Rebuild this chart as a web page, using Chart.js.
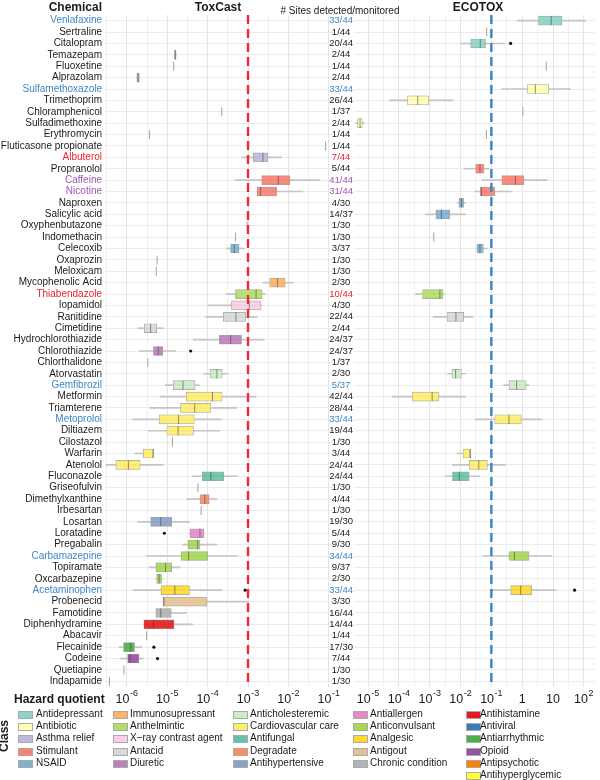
<!DOCTYPE html>
<html lang="en">
<head>
<meta charset="UTF-8">
<title>Hazard quotients: ToxCast vs ECOTOX</title>
<script src="https://cdn.jsdelivr.net/npm/chart.js"></script>
<style>
  body { margin: 0; width: 600px; height: 780px; position: relative; background: #fff; overflow: hidden;
         font-family: 'Liberation Sans', Arial, sans-serif; color: #1a1a1a; }
  .abs { position: absolute; white-space: nowrap; line-height: 1; }
  .ttl { font-weight: bold; font-size: 12px; }
  canvas { display: block; }
  #toxWrap { position: absolute; left: 0; top: 0; }
  #ecoWrap { position: absolute; left: 300px; top: 0; }
  .lg { position: absolute; font-size: 10px; line-height: 12px; white-space: nowrap; }
  .sw { position: absolute; width: 13px; height: 6px; border: 0.5px solid #aaa; }
</style>
</head>
<body>
  <div id="toxWrap"><canvas id="toxChart" width="345" height="715"></canvas></div>
  <div id="ecoWrap"><canvas id="ecoChart" width="300" height="715"></canvas></div>

  <div class="abs ttl" style="left:0; width:102px; text-align:right; top:1px;">Chemical</div>
  <div class="abs ttl" style="left:168px; width:100px; text-align:center; top:1px;">ToxCast</div>
  <div class="abs" style="left:260px; width:160px; text-align:center; top:6px; font-size:10px;"># Sites detected/monitored</div>
  <div class="abs ttl" style="left:428px; width:100px; text-align:center; top:1px;">ECOTOX</div>
  <div class="abs ttl" style="left:14px; top:693px;">Hazard quotient</div>
  <div class="abs ttl" style="left:-12px; top:730px; transform:rotate(-90deg);">Class</div>
  <div id="legend"></div>

<script>
const FONT = "'Liberation Sans', Arial, sans-serif";

const chemicals = ['Venlafaxine', 'Sertraline', 'Citalopram', 'Temazepam', 'Fluoxetine', 'Alprazolam',
  'Sulfamethoxazole', 'Trimethoprim', 'Chloramphenicol', 'Sulfadimethoxine', 'Erythromycin',
  'Fluticasone propionate', 'Albuterol', 'Propranolol', 'Caffeine', 'Nicotine', 'Naproxen',
  'Salicylic acid', 'Oxyphenbutazone', 'Indomethacin', 'Celecoxib', 'Oxaprozin', 'Meloxicam',
  'Mycophenolic Acid', 'Thiabendazole', 'Iopamidol', 'Ranitidine', 'Cimetidine',
  'Hydrochlorothiazide', 'Chlorothiazide', 'Chlorthalidone', 'Atorvastatin', 'Gemfibrozil',
  'Metformin', 'Triamterene', 'Metoprolol', 'Diltiazem', 'Cilostazol', 'Warfarin', 'Atenolol',
  'Fluconazole', 'Griseofulvin', 'Dimethylxanthine', 'Irbesartan', 'Losartan', 'Loratadine',
  'Pregabalin', 'Carbamazepine', 'Topiramate', 'Oxcarbazepine', 'Acetaminophen', 'Probenecid',
  'Famotidine', 'Diphenhydramine', 'Abacavir', 'Flecainide', 'Codeine', 'Quetiapine', 'Indapamide'];

const siteCounts = ['33/44', '1/44', '20/44', '2/44', '1/44', '2/44', '33/44', '26/44', '1/37', '2/44',
  '1/44', '1/44', '7/44', '5/44', '41/44', '31/44', '4/30', '14/37', '1/30', '1/30', '3/37', '1/30',
  '1/30', '2/30', '10/44', '4/30', '22/44', '2/44', '24/37', '24/37', '1/37', '2/30', '5/37', '42/44',
  '28/44', '33/44', '19/44', '1/30', '3/44', '24/44', '24/44', '1/30', '4/44', '1/30', '19/30', '5/44',
  '9/30', '34/44', '9/37', '2/30', '33/44', '3/30', '16/44', '14/44', '1/44', '17/30', '7/44', '1/30', '1/30'];

// class index per chemical (into classNames)
const chemClass = [0,0,0,0,0,0, 1,1,1,1,1, 2,2, 3,3,3, 4,4,4,4,4,4,4, 5, 6, 7, 8,8, 9,9,9, 10,10,
  11,11,11,11,11,11,11, 12,12, 13, 14,14, 15, 16,16,16,16, 17, 18, 19, 20, 21, 22, 23, 24, 25];

const classNames = ['Antidepressant', 'Antibiotic', 'Asthma relief', 'Stimulant', 'NSAID',
  'Immunosupressant', 'Anthelmintic', 'X\u2212ray contrast agent', 'Antacid', 'Diuretic',
  'Anticholesteremic', 'Cardiovascular care', 'Antifungal', 'Degradate', 'Antihypertensive',
  'Antiallergen', 'Anticonvulsant', 'Analgesic', 'Antigout', 'Chronic condition',
  'Antihistamine', 'Antiviral', 'Antiarrhythmic', 'Opioid', 'Antipsychotic', 'Antihyperglycemic'];

const blueNames = ['Venlafaxine', 'Sulfamethoxazole', 'Gemfibrozil', 'Metoprolol', 'Carbamazepine', 'Acetaminophen'];
const redNames = ['Albuterol', 'Thiabendazole'];
const purpleNames = ['Caffeine', 'Nicotine'];

// log10(hazard quotient): [lower whisker, q1, median, q3, upper whisker], or [single value]
const toxcastLog10 = {
  'Temazepam': [-4.82, -4.82, -4.80, -4.78, -4.78],
  'Fluoxetine': [-4.84],
  'Alprazolam': [-5.76, -5.75, -5.72, -5.69, -5.69],
  'Chloramphenicol': [-3.65],
  'Erythromycin': [-5.44],
  'Fluticasone propionate': [-1.08],
  'Albuterol': [-3.16, -2.87, -2.63, -2.51, -2.17],
  'Caffeine': [-3.32, -2.66, -2.25, -1.96, -1.22],
  'Nicotine': [-2.78, -2.77, -2.69, -2.29, -1.64],
  'Oxyphenbutazone': [-3.02],
  'Indomethacin': [-3.31],
  'Celecoxib': [-3.53, -3.43, -3.34, -3.22, -3.09],
  'Oxaprozin': [-5.25],
  'Meloxicam': [-5.27],
  'Mycophenolic Acid': [-2.62, -2.46, -2.27, -2.08, -1.89],
  'Thiabendazole': [-3.54, -3.31, -2.80, -2.65, -2.57],
  'Iopamidol': [-3.98, -3.41, -2.97, -2.68, -2.66],
  'Ranitidine': [-4.05, -3.61, -3.30, -3.06, -2.77],
  'Cimetidine': [-5.73, -5.57, -5.41, -5.26, -5.10],
  'Hydrochlorothiazide': [-4.35, -3.71, -3.43, -3.16, -2.60],
  'Chlorothiazide': [-5.69, -5.34, -5.22, -5.11, -4.79],
  'Chlorthalidone': [-5.48],
  'Atorvastatin': [-4.09, -3.94, -3.77, -3.64, -3.50],
  'Gemfibrozil': [-5.05, -4.85, -4.61, -4.31, -4.21],
  'Metformin': [-5.18, -4.53, -3.88, -3.64, -2.80],
  'Triamterene': [-5.43, -4.67, -4.32, -3.92, -3.28],
  'Metoprolol': [-5.85, -5.20, -4.72, -4.33, -3.67],
  'Diltiazem': [-5.46, -5.01, -4.73, -4.35, -3.71],
  'Cilostazol': [-4.87],
  'Warfarin': [-5.80, -5.59, -5.35, -5.34, -5.34],
  'Atenolol': [-6.51, -6.27, -5.96, -5.67, -5.10],
  'Fluconazole': [-4.37, -4.13, -3.92, -3.60, -3.26],
  'Griseofulvin': [-4.24],
  'Dimethylxanthine': [-4.52, -4.19, -4.07, -3.96, -3.77],
  'Irbesartan': [-4.16],
  'Losartan': [-5.73, -5.41, -5.16, -4.89, -4.45],
  'Loratadine': [-4.44, -4.44, -4.19, -4.09, -4.09],
  'Pregabalin': [-4.62, -4.48, -4.25, -4.19, -3.78],
  'Carbamazepine': [-5.51, -4.66, -4.47, -4.00, -3.26],
  'Topiramate': [-5.45, -5.28, -5.04, -4.89, -4.68],
  'Oxcarbazepine': [-5.28, -5.26, -5.20, -5.14, -5.12],
  'Acetaminophen': [-5.84, -5.15, -4.81, -4.45, -3.65],
  'Probenecid': [-5.10, -5.10, -5.08, -4.02, -2.99],
  'Famotidine': [-5.28, -5.28, -5.16, -4.90, -4.52],
  'Diphenhydramine': [-5.58, -5.58, -5.34, -4.83, -4.37],
  'Abacavir': [-5.51],
  'Flecainide': [-6.19, -6.08, -5.90, -5.81, -5.63],
  'Codeine': [-6.17, -5.98, -5.92, -5.70, -5.59],
  'Quetiapine': [-6.07],
  'Indapamide': [-6.43]
};
const toxcastOutliers = [['Chlorothiazide', -4.42], ['Loratadine', -5.07], ['Acetaminophen', -3.07],
  ['Flecainide', -5.33], ['Codeine', -5.24]];

const ecotoxLog10 = {
  'Venlafaxine': [-0.17, 0.53, 0.94, 1.29, 2.06],
  'Sertraline': [-1.15],
  'Citalopram': [-1.99, -1.67, -1.36, -1.19, -0.57],
  'Fluoxetine': [0.78],
  'Sulfamethoxazole': [-0.66, 0.17, 0.43, 0.86, 1.57],
  'Trimethoprim': [-4.29, -3.72, -3.39, -3.03, -2.24],
  'Chloramphenicol': [0.02],
  'Sulfadimethoxine': [-5.39, -5.34, -5.26, -5.19, -5.12],
  'Erythromycin': [-1.16],
  'Propranolol': [-1.89, -1.51, -1.37, -1.24, -1.08],
  'Caffeine': [-1.30, -0.66, -0.22, 0.06, 0.81],
  'Nicotine': [-1.54, -1.36, -1.32, -0.89, -0.33],
  'Naproxen': [-2.10, -2.05, -1.97, -1.90, -1.84],
  'Salicylic acid': [-3.13, -2.80, -2.62, -2.35, -1.84],
  'Indomethacin': [-2.87],
  'Celecoxib': [-1.49, -1.47, -1.37, -1.26, -1.13],
  'Thiabendazole': [-3.46, -3.23, -2.67, -2.57, -2.53],
  'Ranitidine': [-2.89, -2.44, -2.15, -1.90, -1.60],
  'Atorvastatin': [-2.42, -2.28, -2.16, -1.97, -1.84],
  'Gemfibrozil': [-0.60, -0.43, -0.18, 0.13, 0.22],
  'Metformin': [-4.22, -3.57, -2.92, -2.70, -1.84],
  'Metoprolol': [-1.52, -0.89, -0.43, -0.03, 0.64],
  'Warfarin': [-2.11, -1.92, -1.69, -1.67, -1.67],
  'Atenolol': [-2.26, -1.72, -1.41, -1.13, -0.54],
  'Fluconazole': [-2.49, -2.26, -2.04, -1.72, -1.38],
  'Carbamazepine': [-1.27, -0.43, -0.25, 0.22, 0.96],
  'Acetaminophen': [-1.00, -0.37, -0.05, 0.31, 1.10]
};
const ecotoxOutliers = [['Citalopram', -0.375], ['Acetaminophen', 1.70]];

const toxcastThreshold = 1e-3;
const ecotoxThreshold = 1e-1;
const toxcastTickExps = [-6, -5, -4, -3, -2, -1];
const ecotoxTickExps = [-5, -4, -3, -2, -1, 0, 1, 2];
const toxcastGrid = [-6.5, -6, -5.5, -5, -4.5, -4, -3.5, -3, -2.5, -2, -1.5, -1];
const ecotoxGrid = [-5, -4.5, -4, -3.5, -3, -2.5, -2, -1.5, -1, -0.5, 0, 0.5, 1, 1.5, 2];

// styles
const classColors = ['#8DD3C7', '#FFFFB3', '#BEBADA', '#FB8072', '#80B1D3', '#FDB462', '#B3DE69',
  '#FCCDE5', '#D9D9D9', '#BC80BD', '#CCEBC5', '#FFED6F', '#66C2A5', '#FC8D62', '#8DA0CB',
  '#E78AC3', '#A6D854', '#FFD92F', '#E5C494', '#B3B3B3', '#E41A1C', '#377EB8', '#4DAF4A',
  '#984EA3', '#FF7F00', '#FFFF33'];

function nameColor(name) {
  if (blueNames.includes(name)) return '#3d86c6';
  if (redNames.includes(name)) return '#e8242b';
  if (purpleNames.includes(name)) return '#a054b6';
  return '#1a1a1a';
}

const pow10 = v => Math.pow(10, v);

function buildDatasets(stats, outliers) {
  const whisk = chemicals.map(c => {
    const s = stats[c];
    return s && s.length === 5 && s[4] > s[0] ? [pow10(s[0]), pow10(s[4])] : null;
  });
  const box = chemicals.map(c => {
    const s = stats[c];
    return s && s.length === 5 && s[3] > s[1] ? [pow10(s[1]), pow10(s[3])] : null;
  });
  const meds = [], medColors = [];
  chemicals.forEach(c => {
    const s = stats[c];
    if (!s) return;
    const single = s.length === 1;
    meds.push({ x: pow10(single ? s[0] : s[2]), y: c });
    medColors.push(single ? '#a9a9a9' : 'rgba(60,60,60,0.5)');
  });
  const outs = outliers.map(([c, v]) => ({ x: pow10(v), y: c }));
  return [
    { type: 'scatter', data: outs, order: 0, pointRadius: 1.6, pointBackgroundColor: '#111',
      pointBorderWidth: 0 },
    { type: 'scatter', data: meds, order: 1, pointStyle: 'line', pointRotation: 90, pointRadius: 4.5,
      pointBorderColor: medColors, pointBorderWidth: 1.1 },
    { type: 'bar', data: box, order: 2, grouped: false, barThickness: 9,
      backgroundColor: chemClass.map(k => classColors[k] + 'E6'),
      borderColor: '#a8a8a8', borderWidth: 0.7, borderSkipped: false },
    { type: 'bar', data: whisk, order: 3, grouped: false, barThickness: 1, backgroundColor: '#c4c4c4' }
  ];
}

function thresholdPlugin(value, color) {
  return {
    id: 'threshold',
    afterDatasetsDraw(chart) {
      const { ctx, chartArea: a } = chart;
      const px = chart.scales.x.getPixelForValue(value);
      ctx.save();
      ctx.strokeStyle = color;
      ctx.lineWidth = 2.4;
      ctx.setLineDash([9, 5]);
      ctx.beginPath();
      ctx.moveTo(px, a.top);
      ctx.lineTo(px, a.bottom);
      ctx.stroke();
      ctx.restore();
    }
  };
}

function expLabelPlugin(exps) {
  return {
    id: 'expLabels',
    afterDraw(chart) {
      const ctx = chart.ctx, xs = chart.scales.x;
      ctx.save();
      ctx.fillStyle = '#1a1a1a';
      ctx.textAlign = 'left';
      ctx.textBaseline = 'alphabetic';
      exps.forEach(e => {
        const px = xs.getPixelForValue(pow10(e));
        const base = e === 0 ? '1' : '10';
        const sup = (e === 0 || e === 1) ? '' : String(e);
        ctx.font = '12.5px ' + FONT;
        const bw = ctx.measureText(base).width;
        ctx.font = '9px ' + FONT;
        const sw = sup ? ctx.measureText(sup).width + 0.5 : 0;
        const x0 = px - (bw + sw) / 2;
        ctx.font = '12.5px ' + FONT;
        ctx.fillText(base, x0, 703);
        if (sup) {
          ctx.font = '9px ' + FONT;
          ctx.fillText(sup, x0 + bw + 0.5, 696);
        }
      });
      ctx.restore();
    }
  };
}

Chart.defaults.font.family = FONT;

function makeChart(id, stats, outliers, opt) {
  return new Chart(document.getElementById(id), {
    type: 'bar',
    data: { labels: chemicals, datasets: buildDatasets(stats, outliers) },
    options: {
      indexAxis: 'y',
      responsive: false,
      animation: false,
      layout: { padding: { left: 0, right: opt.padRight, top: 15, bottom: 0 } },
      plugins: { legend: { display: false }, tooltip: { enabled: false } },
      scales: {
        x: {
          type: 'logarithmic',
          min: pow10(opt.min), max: pow10(opt.max),
          afterBuildTicks: s => { s.ticks = opt.grid.map(v => ({ value: pow10(v) })); },
          afterFit: s => { s.height = 28; },
          ticks: { display: false },
          grid: {
            drawTicks: false,
            color: c => {
              const l = Math.log10(c.tick.value);
              return Math.abs(l - Math.round(l)) < 1e-6 ? '#e4e4e4' : '#f0f0f0';
            }
          },
          border: { display: false }
        },
        y: {
          offset: true,
          afterFit: s => { s.width = opt.axisWidth; },
          grid: { offset: false, drawTicks: false, color: '#ebebeb' },
          border: { display: false },
          ticks: {
            autoSkip: false,
            padding: opt.tickPad,
            crossAlign: opt.crossAlign,
            font: { size: opt.labelSize },
            color: c => nameColor(chemicals[c.index]),
            callback: (v, i) => opt.labels[i]
          }
        }
      }
    },
    plugins: [thresholdPlugin(opt.threshold, opt.lineColor), expLabelPlugin(opt.tickExps)]
  });
}

makeChart('toxChart', toxcastLog10, toxcastOutliers, {
  min: -6.54, max: -0.896, padRight: 12, axisWidth: 105, tickPad: 3, crossAlign: 'near',
  labelSize: 10, labels: chemicals, grid: toxcastGrid, tickExps: toxcastTickExps,
  threshold: toxcastThreshold, lineColor: '#ee2a2f'
});
makeChart('ecoChart', ecotoxLog10, ecotoxOutliers, {
  min: -5.456, max: 2.343, padRight: 5, axisWidth: 54, tickPad: 1, crossAlign: 'center',
  labelSize: 9.5, labels: siteCounts, grid: ecotoxGrid, tickExps: ecotoxTickExps,
  threshold: ecotoxThreshold, lineColor: '#3b82c4'
});

// legend: column-major, 5 rows per column (last column 6)
const legendCols = [[0, 5], [5, 10], [10, 15], [15, 20], [20, 26]];
const colSwatchX = [18, 113, 233, 353, 466];
const colTextX = [36, 130, 250, 370, 480];
const legend = document.getElementById('legend');
legendCols.forEach(([a, b], col) => {
  for (let k = a; k < b; k++) {
    const y = 708 + (k - a) * 12.2;
    const sw = document.createElement('div');
    sw.className = 'sw';
    sw.style.left = colSwatchX[col] + 'px';
    sw.style.top = (y + 3) + 'px';
    sw.style.background = 'linear-gradient(to bottom, transparent 42%, rgba(0,0,0,0.18) 42%, rgba(0,0,0,0.18) 58%, transparent 58%), ' + classColors[k];
    legend.appendChild(sw);
    const tx = document.createElement('div');
    tx.className = 'lg';
    tx.style.left = colTextX[col] + 'px';
    tx.style.top = y + 'px';
    tx.textContent = classNames[k];
    legend.appendChild(tx);
  }
});
</script>
</body>
</html>
